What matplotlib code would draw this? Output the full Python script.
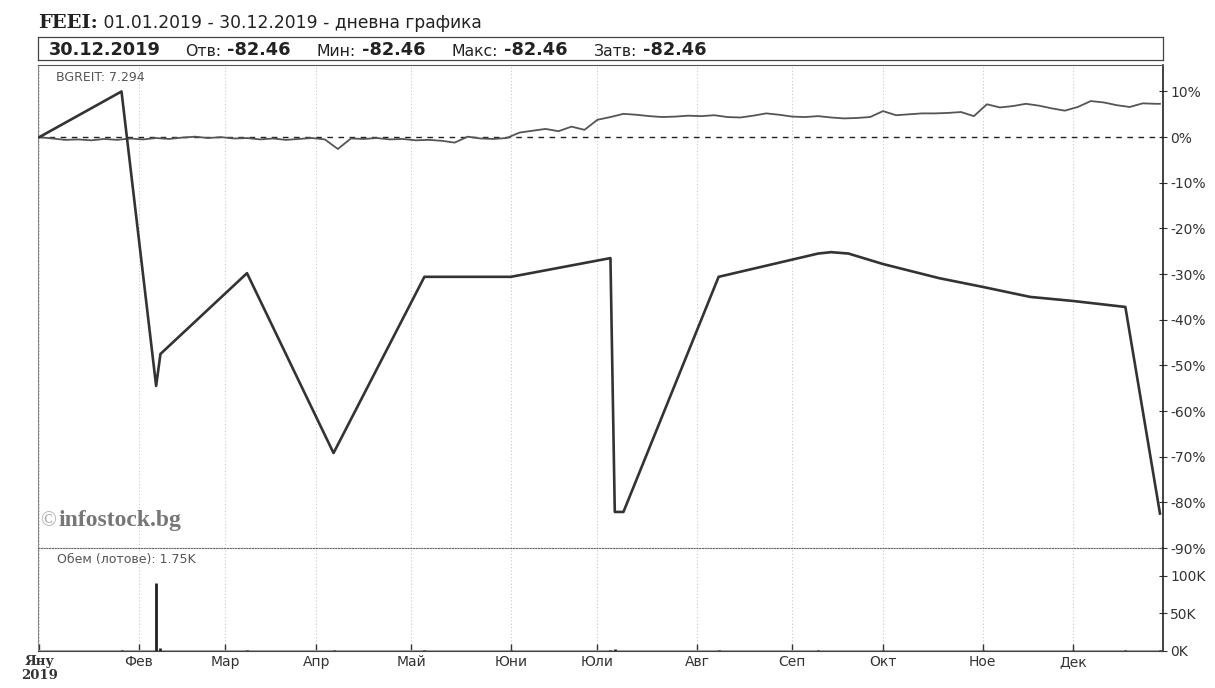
import matplotlib.pyplot as plt
import pandas as pd

# trading-day calendar used as the x axis (one slot per weekday)
days = pd.bdate_range('2019-01-01', '2019-12-30')

# FEEI, % change from 01.01.2019 (points where the share traded)
feei_dates = ['2019-01-01', '2019-01-28', '2019-02-07', '2019-02-08', '2019-03-08',
              '2019-04-05', '2019-05-06', '2019-06-03', '2019-07-04', '2019-07-05',
              '2019-07-09', '2019-08-08', '2019-09-10', '2019-09-13', '2019-09-19',
              '2019-10-01', '2019-10-18', '2019-11-01', '2019-11-18', '2019-12-02',
              '2019-12-18', '2019-12-30']
feei_values = [0.0, 10.0, -54.5, -47.5, -29.8,
               -69.2, -30.6, -30.6, -26.5, -82.1,
               -82.1, -30.6, -25.5, -25.2, -25.5,
               -27.8, -30.9, -32.8, -35.0, -35.9,
               -37.2, -82.46]

# BGREIT index, % change, read every 3rd trading day (+ last day)
bgreit_step = 3
bgreit_values = [0.0, -0.3, -0.6, -0.5, -0.7, -0.4, -0.6, -0.3, -0.5, -0.2,
                 -0.4, -0.1, 0.1, -0.2, 0.0, -0.3, -0.2, -0.5, -0.3, -0.6,
                 -0.4, -0.2, -0.5, -2.6, -0.3, -0.4, -0.2, -0.5, -0.4, -0.7,
                 -0.6, -0.8, -1.2, 0.1, -0.3, -0.4, -0.2, 1.0, 1.4, 1.8,
                 1.3, 2.3, 1.6, 3.8, 4.4, 5.1, 4.9, 4.6, 4.4, 4.5,
                 4.7, 4.6, 4.8, 4.4, 4.3, 4.7, 5.2, 4.9, 4.5, 4.4,
                 4.6, 4.3, 4.1, 4.2, 4.4, 5.7, 4.8, 5.0, 5.2, 5.2,
                 5.3, 5.5, 4.6, 7.2, 6.5, 6.8, 7.3, 6.9, 6.3, 5.8,
                 6.6, 7.9, 7.6, 7.0, 6.6, 7.4, 7.3, 7.3]

# volume in lots
vol_dates = ['2019-01-28', '2019-02-07', '2019-02-08', '2019-03-08', '2019-04-05',
             '2019-05-06', '2019-06-03', '2019-07-04', '2019-07-05', '2019-08-08',
             '2019-09-10', '2019-10-01', '2019-11-01', '2019-12-02', '2019-12-18',
             '2019-12-30']
vol_values = [1200, 90000, 4000, 1500, 1800,
              1200, 1500, 1000, 2000, 1500,
              1200, 900, 1000, 1100, 1300,
              1750]

months = ['Яну\n2019', 'Фев', 'Мар', 'Апр', 'Май', 'Юни',
          'Юли', 'Авг', 'Сеп', 'Окт', 'Ное', 'Дек']
pct_ticks = list(range(-90, 11, 10))
vol_ticks = [0, 50000, 100000]

feei_x = days.get_indexer(pd.to_datetime(feei_dates))
bgreit_x = list(range(0, len(days), bgreit_step))
if bgreit_x[-1] != len(days) - 1:
    bgreit_x.append(len(days) - 1)
vol_x = days.get_indexer(pd.to_datetime(vol_dates))
month_x = [days.get_indexer([days[days.month == m][0]])[0] for m in range(1, 13)]

plt.rcParams['font.family'] = ['DejaVu Sans']
fig = plt.figure(figsize=(12.15, 6.88), dpi=100)
W, H = 1215, 688

def box(x0, y0, x1, y1):
    return [x0 / W, 1 - y1 / H, (x1 - x0) / W, (y1 - y0) / H]

xl = (-0.3, len(days) - 0.3)
txt = '#333333'
ink = '#222222'

# header
t = fig.text(38 / W, 1 - 28 / H, 'FEEI:', fontsize=14, fontweight='bold',
             family='DejaVu Serif', color=ink, va='baseline')
fig.add_artist(plt.Annotation(' 01.01.2019 - 30.12.2019 - дневна графика', xy=(1, 0),
                              xycoords=t, va='bottom', fontsize=12.3, color=ink))

hdr = fig.add_axes(box(38, 37, 1163, 60))
hdr.set_xticks([])
hdr.set_yticks([])
for s in hdr.spines.values():
    s.set_color('#444444')
    s.set_linewidth(0.9)
pieces = [('30.12.2019', 'bold', 0), ('Отв:', 'normal', 24), ('-82.46', 'bold', 6),
          ('Мин:', 'normal', 26), ('-82.46', 'bold', 6), ('Макс:', 'normal', 26),
          ('-82.46', 'bold', 6), ('Затв:', 'normal', 26), ('-82.46', 'bold', 6)]
prev = None
for s, w, gap in pieces:
    size = 12.8 if w == 'bold' else 11.3
    if prev is None:
        prev = hdr.text(0.01, 0.45, s, fontsize=size, fontweight=w, color=ink,
                        va='center', transform=hdr.transAxes)
    else:
        prev = hdr.annotate(s, xy=(1, 0), xycoords=prev, xytext=(gap * 0.72, 0),
                            textcoords='offset points', va='bottom',
                            fontsize=size, fontweight=w, color=ink)

# price panel
ax = fig.add_axes(box(38, 65, 1163, 548))
ax.set_xlim(*xl)
ax.set_ylim(-90, 15.8)
for m in month_x:
    ax.axvline(m, color='#c8c8c8', lw=0.8, ls=(0, (1, 2)), zorder=0)
ax.axhline(0, color=ink, lw=1.0, ls=(0, (4, 4)), zorder=1)
ax.plot(bgreit_x, bgreit_values, color='#555555', lw=1.3, zorder=2)
ax.plot(feei_x, feei_values, color='#333333', lw=1.9, zorder=3)
ax.yaxis.tick_right()
ax.set_yticks(pct_ticks)
ax.set_yticklabels([f'{v}%' for v in pct_ticks], fontsize=10, color=txt)
ax.tick_params(axis='y', direction='inout', length=6, width=0.8, pad=2, colors='#333333')
ax.tick_params(axis='y', labelcolor=txt)
ax.set_xticks([])
ax.spines['bottom'].set_linestyle((0, (1, 1.5)))
ax.spines['bottom'].set_color('#666666')
ax.spines['left'].set_color('#888888')
ax.spines['right'].set_color(ink)
ax.spines['right'].set_linewidth(1.2)
ax.spines['top'].set_color('#555555')
ax.text(0.016, 0.988, 'BGREIT: 7.294', transform=ax.transAxes, fontsize=9,
        color='#555555', va='top')
ax.text(0.002, 0.035, '©', transform=ax.transAxes, fontsize=15, color='#aaaaaa',
        va='bottom', family='Liberation Serif')
ax.text(0.018, 0.035, 'infostock.bg', transform=ax.transAxes, fontsize=17,
        fontweight='bold', color='#777777', va='bottom', family='Liberation Serif')

# volume panel
vx = fig.add_axes(box(38, 548, 1163, 651))
vx.patch.set_visible(False)
vx.set_xlim(*xl)
vx.set_ylim(0, 137000)
for m in month_x:
    vx.axvline(m, color='#c8c8c8', lw=0.8, ls=(0, (1, 2)), zorder=0)
vx.vlines(vol_x, 0, vol_values, color=ink, lw=2.0, zorder=3)
vx.axhline(0, color='#999999', lw=2.0, zorder=2)
vx.yaxis.tick_right()
vx.set_yticks(vol_ticks)
vx.set_yticklabels([f'{v // 1000}K' for v in vol_ticks], fontsize=10, color=txt)
vx.tick_params(axis='y', direction='inout', length=6, width=0.8, pad=2, colors='#333333')
vx.tick_params(axis='y', labelcolor=txt)
vx.set_xticks(month_x)
vx.set_xticklabels(months, fontsize=10, color=txt, va='top', linespacing=1.1)
vx.get_xticklabels()[0].set_fontweight('bold')
vx.get_xticklabels()[0].set_family('DejaVu Serif')
vx.get_xticklabels()[0].set_fontsize(9.5)
vx.tick_params(axis='x', direction='in', length=5, width=1, pad=3, colors='#333333')
vx.tick_params(axis='x', labelcolor=txt)
vx.spines['top'].set_visible(False)
vx.spines['left'].set_color('#888888')
vx.spines['right'].set_color(ink)
vx.spines['right'].set_linewidth(1.2)
vx.spines['bottom'].set_color('#444444')
vx.text(0.017, 0.95, 'Обем (лотове): 1.75K', transform=vx.transAxes, fontsize=9,
        color='#555555', va='top')

fig.savefig('out.png', dpi=100, facecolor='white')
